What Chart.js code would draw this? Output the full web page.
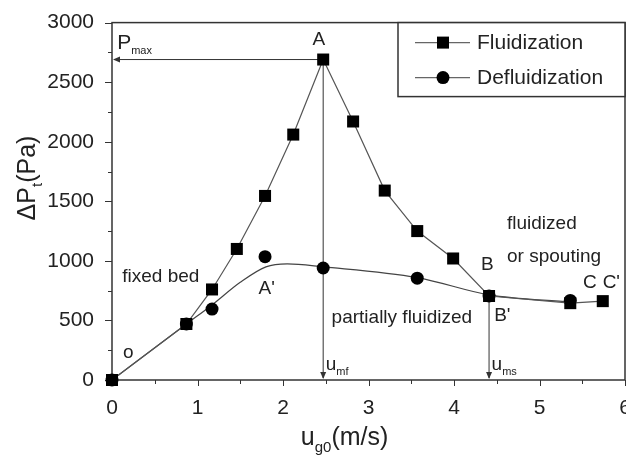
<!DOCTYPE html>
<html>
<head>
<meta charset="utf-8">
<script src="https://cdn.jsdelivr.net/npm/chart.js@4.4.1/dist/chart.umd.min.js"></script>
<style>
    html, body { margin: 0; padding: 0; background: #fff; overflow: hidden; }
    #wrap { width: 640px; height: 460px; }
</style>
</head>
<body>
<div id="wrap"><canvas id="PressureChart"></canvas></div>
<script>
const fluidX = [0, 0.87, 1.17, 1.46, 1.79, 2.12, 2.47, 2.82, 3.19, 3.57, 3.99, 4.41, 5.36, 5.74];
const fluidY = [0, 470, 760, 1100, 1545, 2060, 2690, 2170, 1590, 1250, 1020, 705, 645, 662];
const defluidX = [0, 0.87, 1.17, 1.79, 2.47, 3.57, 4.41, 5.36];
const defluidY = [0, 470, 595, 1035, 940, 855, 705, 668];
// smooth fitted curve drawn through the defluidization data
const fitX = [0, 0.87, 1.17, 1.5, 1.8, 2.05, 2.47, 3.57, 4.41, 5.36];
const fitY = [0, 470, 630, 820, 950, 975, 950, 860, 715, 655];

const seriesNames = ['Fluidization', 'Defluidization'];
const xMin = 0, xMax = 6, xMinorStep = 0.5;
const yMin = 0, yMax = 3000, yMinorStep = 250;

const FONT = '"Liberation Sans", Arial, sans-serif';
const INK = '#222';

function toPoints(xs, ys) {
    const pts = [];
    for (let k = 0; k < xs.length; k++) {
        pts.push({ x: xs[k], y: ys[k] });
    }
    return pts;
}

// peak (A) and the point where the curves meet (B)
const peakIdx = fluidY.indexOf(Math.max(...fluidY));
const bIdx = fluidX.indexOf(4.41);

// text notes in data coordinates
const notes = [
    { text: 'A', x: 2.42, y: 2858, align: 'center' },
    { text: 'fixed bed', x: 0.12, y: 870, align: 'left' },
    { text: "A'", x: 1.81, y: 762, align: 'center' },
    { text: 'o', x: 0.13, y: 230, align: 'left' },
    { text: 'partially fluidized', x: 3.39, y: 522, align: 'center' },
    { text: 'fluidized', x: 4.62, y: 1309, align: 'left' },
    { text: 'or spouting', x: 4.62, y: 1036, align: 'left' },
    { text: 'B', x: 4.39, y: 969, align: 'center' },
    { text: "B'", x: 4.47, y: 539, align: 'left' },
    { text: 'C', x: 5.59, y: 820, align: 'center' },
    { text: "C'", x: 5.84, y: 820, align: 'center' }
];

function font(size) {
    return size + 'px ' + FONT;
}

// draw text runs with subscripts, left edge x, baseline y
function runsWidth(ctx, runs) {
    let w = 0;
    runs.forEach(r => { ctx.font = font(r.size); w += ctx.measureText(r.t).width; });
    return w;
}
function drawRuns(ctx, runs, x, y) {
    runs.forEach(r => {
        ctx.font = font(r.size);
        ctx.fillText(r.t, x, y + (r.dy || 0));
        x += ctx.measureText(r.t).width;
    });
}

function arrowHead(ctx, x, y, dir) {
    ctx.beginPath();
    if (dir === 'left') {
        ctx.moveTo(x, y); ctx.lineTo(x + 7, y - 3); ctx.lineTo(x + 7, y + 3);
    } else {
        ctx.moveTo(x, y); ctx.lineTo(x - 3, y - 7); ctx.lineTo(x + 3, y - 7);
    }
    ctx.closePath();
    ctx.fill();
}

const decorPlugin = {
    id: 'decor',
    beforeDatasetsDraw(chart) {
        const ctx = chart.ctx;
        const xs = chart.scales.x, ys = chart.scales.y;
        const area = chart.chartArea;
        ctx.save();
        ctx.strokeStyle = '#333';
        ctx.fillStyle = '#333';

        // frame
        ctx.lineWidth = 1.5;
        ctx.strokeRect(area.left, area.top, area.right - area.left, area.bottom - area.top);
        ctx.lineWidth = 1;

        // ticks, outward, major longer than minor
        for (let v = xMin; v <= xMax + 1e-9; v += xMinorStep) {
            const px = Math.round(xs.getPixelForValue(v)) + 0.5;
            const len = (Math.abs(v - Math.round(v)) < 1e-9) ? 6 : 4;
            ctx.beginPath(); ctx.moveTo(px, area.bottom); ctx.lineTo(px, area.bottom + len); ctx.stroke();
        }
        for (let v = yMin; v <= yMax; v += yMinorStep) {
            const py = Math.round(ys.getPixelForValue(v)) + 0.5;
            const len = (v % 500 === 0) ? 7 : 4;
            ctx.beginPath(); ctx.moveTo(area.left - len, py); ctx.lineTo(area.left, py); ctx.stroke();
        }

        // arrows: P_max, u_mf, u_ms
        const ax = xs.getPixelForValue(fluidX[peakIdx]);
        const ay = ys.getPixelForValue(fluidY[peakIdx]);
        const bx = xs.getPixelForValue(fluidX[bIdx]);
        const by = ys.getPixelForValue(fluidY[bIdx]);
        const x0 = xs.getPixelForValue(0);
        const y0 = ys.getPixelForValue(0);
        ctx.beginPath();
        ctx.moveTo(ax, ay); ctx.lineTo(x0 + 2, ay);
        ctx.moveTo(ax, ay); ctx.lineTo(ax, y0 - 2);
        ctx.moveTo(bx, by); ctx.lineTo(bx, y0 - 2);
        ctx.stroke();
        arrowHead(ctx, x0 + 1, ay, 'left');
        arrowHead(ctx, ax, y0 - 1, 'down');
        arrowHead(ctx, bx, y0 - 1, 'down');
        ctx.restore();
    },
    afterDraw(chart) {
        const ctx = chart.ctx;
        const xs = chart.scales.x, ys = chart.scales.y;
        const area = chart.chartArea;
        ctx.save();

        // notes
        ctx.fillStyle = INK;
        ctx.textBaseline = 'middle';
        notes.forEach(n => {
            ctx.font = font(19);
            ctx.textAlign = n.align;
            ctx.fillText(n.text, xs.getPixelForValue(n.x), ys.getPixelForValue(n.y));
        });
        ctx.textAlign = 'left';
        ctx.textBaseline = 'alphabetic';
        drawRuns(ctx, [{ t: 'P', size: 21 }, { t: 'max', size: 11, dy: 5 }],
            xs.getPixelForValue(0.06), ys.getPixelForValue(2780));
        drawRuns(ctx, [{ t: 'u', size: 19 }, { t: 'mf', size: 11, dy: 5 }],
            xs.getPixelForValue(2.50), ys.getPixelForValue(85));
        drawRuns(ctx, [{ t: 'u', size: 19 }, { t: 'ms', size: 11, dy: 5 }],
            xs.getPixelForValue(4.44), ys.getPixelForValue(85));

        // axis titles
        const xt = [{ t: 'u', size: 25 }, { t: 'g0', size: 15, dy: 7 }, { t: '(m/s)', size: 25 }];
        drawRuns(ctx, xt, xs.getPixelForValue(2.72) - runsWidth(ctx, xt) / 2, 445);
        const yt = [{ t: '\u0394P', size: 25 }, { t: 't', size: 15, dy: 7 }, { t: '(Pa)', size: 25 }];
        ctx.save();
        ctx.translate(35, 178);
        ctx.rotate(-Math.PI / 2);
        drawRuns(ctx, yt, -runsWidth(ctx, yt) / 2, 0);
        ctx.restore();

        // legend box
        const lx = 398, ly = area.top, lw = area.right - 398, lh = 74;
        ctx.fillStyle = '#fff';
        ctx.fillRect(lx, ly, lw, lh);
        ctx.strokeStyle = '#333';
        ctx.lineWidth = 1.5;
        ctx.strokeRect(lx, ly, lw, lh);
        const rows = [ly + 20, ly + 55];
        ctx.lineWidth = 1.2;
        rows.forEach((ry, i) => {
            ctx.strokeStyle = '#666';
            ctx.beginPath(); ctx.moveTo(415, ry); ctx.lineTo(470, ry); ctx.stroke();
            ctx.fillStyle = '#000';
            if (i === 0) {
                ctx.fillRect(443 - 6, ry - 6, 12, 12);
            } else {
                ctx.beginPath(); ctx.arc(443, ry, 6.5, 0, Math.PI * 2); ctx.fill();
            }
            ctx.fillStyle = INK;
            ctx.font = font(21);
            ctx.textBaseline = 'middle';
            ctx.fillText(seriesNames[i], 477, ry + 1);
        });
        ctx.restore();
    }
};

const chartdata = {
    datasets: [{
        label: seriesNames[0],
        data: toPoints(fluidX, fluidY),
        showLine: true,
        clip: false,
        borderColor: '#555',
        borderWidth: 1.2,
        pointStyle: 'rect',
        pointRadius: 8.5,
        pointBackgroundColor: '#000',
        pointBorderColor: '#000',
        pointBorderWidth: 0
    }, {
        label: seriesNames[1],
        data: toPoints(defluidX, defluidY),
        showLine: false,
        clip: false,
        pointStyle: 'circle',
        pointRadius: 6.5,
        pointBackgroundColor: '#000',
        pointBorderColor: '#000',
        pointBorderWidth: 0
    }, {
        label: 'fit',
        data: toPoints(fitX, fitY),
        showLine: true,
        cubicInterpolationMode: 'monotone',
        borderColor: '#444',
        borderWidth: 1.2,
        pointRadius: 0
    }]
};

const chartconfig = {
    type: 'scatter',
    data: chartdata,
    options: {
        animation: false,
        responsive: true,
        maintainAspectRatio: false,
        layout: { padding: { top: 18, right: 15, left: 0, bottom: 0 } },
        plugins: {
            legend: { display: false },
            tooltip: { enabled: false }
        },
        scales: {
            x: {
                type: 'linear',
                min: xMin,
                max: xMax,
                grid: { display: false },
                border: { display: false },
                afterFit: (scale) => { scale.height = 80; },
                ticks: {
                    stepSize: 1,
                    padding: 8,
                    color: INK,
                    font: { family: FONT, size: 21 },
                    callback: (v) => String(v)
                }
            },
            y: {
                min: yMin,
                max: yMax,
                grid: { display: false },
                border: { display: false },
                afterFit: (scale) => { scale.width = 112; },
                ticks: {
                    stepSize: 500,
                    padding: 10,
                    color: INK,
                    font: { family: FONT, size: 21 },
                    callback: (v) => String(v)
                }
            }
        }
    },
    plugins: [decorPlugin]
};

new Chart(document.getElementById('PressureChart'), chartconfig);
</script>
</body>
</html>
